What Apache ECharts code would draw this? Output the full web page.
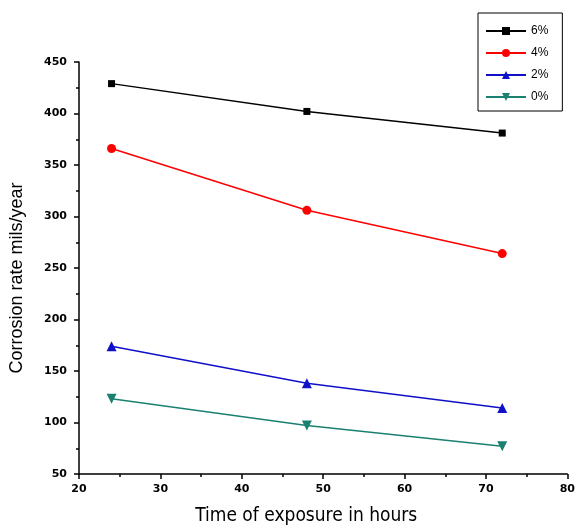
<!DOCTYPE html>
<html>
<head>
<meta charset="utf-8">
<script src="https://cdn.jsdelivr.net/npm/echarts@6/dist/echarts.min.js"></script>
<style>
  html, body { margin: 0; padding: 0; background: #fff; }
  #chart { width: 578px; height: 531px; }
</style>
</head>
<body>
<div id="chart"></div>
<script>
// Corrosion rate vs exposure time, one line per inhibitor concentration
const hours = [24, 48, 72];
const seriesNames = ["6%", "4%", "2%", "0%"];
const rate6 = [429, 402, 381];
const rate4 = [366, 306, 264];
const rate2 = [174, 138, 114];
const rate0 = [123, 97, 77];

const COLORS = ["#000000", "#ff0000", "#1010c8", "#1a8070"];
const SYMBOLS = ["rect", "circle", "triangle", "path://M0,0 L10,0 L5,10 Z"];
const SIZES = [7, 9, 10, 10];

const tickFont = { color: "#000", fontSize: 11, fontWeight: "bold", fontFamily: "DejaVu Sans, Arial" };

const pairs = (vals) => hours.map((h, i) => [h, vals[i]]);

const chart = echarts.init(document.getElementById("chart"), null, { renderer: "canvas" });

chart.setOption({
  animation: false,
  backgroundColor: "#fff",
  grid: { left: 76, right: 9, top: 62, bottom: 56 },
  legend: {
    orient: "vertical",
    left: 478,
    top: 13,
    width: 87,
    padding: [12, 14, 8, 7],
    itemGap: 10,
    itemWidth: 40,
    itemHeight: 10,
    borderColor: "#000",
    borderWidth: 1,
    textStyle: { color: "#000", fontSize: 12, fontFamily: "Liberation Sans, Arial" },
    data: seriesNames,
  },
  xAxis: {
    type: "value",
    min: 20,
    max: 80,
    interval: 10,
    name: "Time of exposure in hours",
    nameLocation: "middle",
    nameGap: 33,
    nameTextStyle: {
      color: "#000",
      fontSize: 19,
      fontFamily: "Liberation Sans Narrow, DejaVu Sans Condensed, Arial",
      padding: [0, 34, 0, 0],
    },
    axisLine: { lineStyle: { color: "#000", width: 1.5 } },
    axisTick: { length: 5, lineStyle: { color: "#000", width: 1.5 } },
    minorTick: { show: true, splitNumber: 2, length: 3, lineStyle: { color: "#000", width: 1.5 } },
    axisLabel: { ...tickFont, margin: 10 },
    splitLine: { show: false },
  },
  yAxis: {
    type: "value",
    min: 50,
    max: 450,
    interval: 50,
    name: "Corrosion rate mils/year",
    nameLocation: "middle",
    nameGap: 53,
    nameTextStyle: {
      color: "#000",
      fontSize: 18,
      fontFamily: "Liberation Sans, Arial",
      padding: [0, 20, 0, 0],
    },
    axisLine: { show: true, lineStyle: { color: "#000", width: 1.5 } },
    axisTick: { show: true, length: 5, lineStyle: { color: "#000", width: 1.5 } },
    minorTick: { show: true, splitNumber: 2, length: 3, lineStyle: { color: "#000", width: 1.5 } },
    axisLabel: { ...tickFont, margin: 12 },
    splitLine: { show: false },
  },
  series: [rate6, rate4, rate2, rate0].map((vals, i) => ({
    name: seriesNames[i],
    type: "line",
    data: pairs(vals),
    symbol: SYMBOLS[i],
    symbolSize: SIZES[i],
    color: COLORS[i],
    lineStyle: { color: COLORS[i], width: 1.5 },
    itemStyle: { color: COLORS[i] },
  })),
});
</script>
</body>
</html>
